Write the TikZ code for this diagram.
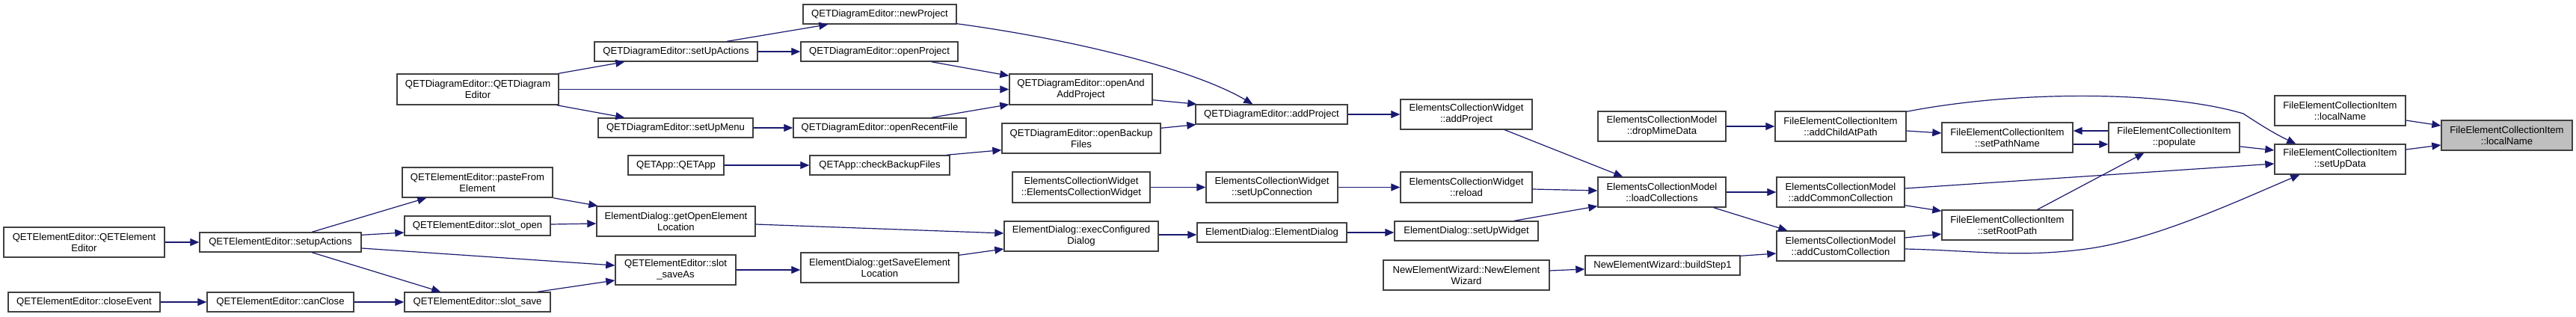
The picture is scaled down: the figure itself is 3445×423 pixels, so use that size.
\documentclass[tikz,border=0pt]{standalone}
\usepackage{fontspec}
\setmainfont{Liberation Sans}
\usetikzlibrary{arrows.meta}
\definecolor{edgeblue}{HTML}{191970}
\definecolor{nodeborder}{HTML}{404040}
\definecolor{targetfill}{HTML}{BFBFBF}
\tikzset{
  box/.style={draw=nodeborder, line width=1.4pt, fill=white, inner sep=0pt, align=center,
    text=black, font=\fontsize{13.1}{15}\selectfont},
  call/.style={draw=edgeblue, line width=1.2pt, -{Triangle[length=12pt,width=10pt]}},
}
\newcommand\nd[7][]{\node[box,#1,minimum width=#5pt,minimum height=#6pt] (#2) at (#3,#4) {#7};}
\begin{document}
\begin{tikzpicture}[x=1pt,y=-1pt]
\useasboundingbox (0,0) rectangle (3445,423);
% nodes
\nd{qde}{639}{119.5}{216}{41}{QETDiagramEditor::QETDiagram\\Editor}
\nd{qee}{112.5}{324}{215}{40}{QETElementEditor::QETElement\\Editor}
\nd{qeeSA}{375}{324}{216}{26}{QETElementEditor::setupActions}
\nd{qeeClose}{112.5}{404}{203}{26}{QETElementEditor::closeEvent}
\nd{qeeCan}{375}{404}{196}{26}{QETElementEditor::canClose}
\nd{qeePaste}{638.5}{244}{201}{40}{QETElementEditor::pasteFrom\\Element}
\nd{qeeOpen}{638.5}{302}{195}{26}{QETElementEditor::slot\_open}
\nd{qeeSave}{638.5}{404}{195}{26}{QETElementEditor::slot\_save}
\nd{qdeSA}{904}{69}{218}{26}{QETDiagramEditor::setUpActions}
\nd{qdeMenu}{903.5}{171}{207}{26}{QETDiagramEditor::setUpMenu}
\nd{qdeNew}{1176.5}{19}{205}{26}{QETDiagramEditor::newProject}
\nd{qdeOpen}{1176}{69}{210}{26}{QETDiagramEditor::openProject}
\nd{qdeRecent}{1176.5}{171}{231}{26}{QETDiagramEditor::openRecentFile}
\nd{app}{904}{221}{128}{26}{QETApp::QETApp}
\nd{appCheck}{1176.5}{221}{187}{26}{QETApp::checkBackupFiles}
\nd{edOpenLoc}{904}{296}{212}{40}{ElementDialog::getOpenElement\\Location}
\nd{qeeSaveAs}{903.5}{361}{161}{40}{QETElementEditor::slot\\\_saveAs}
\nd{edSaveLoc}{1176.5}{358}{211}{40}{ElementDialog::getSaveElement\\Location}
\nd{qdeOAA}{1445.5}{119.5}{191}{41}{QETDiagramEditor::openAnd\\AddProject}
\nd{qdeBackup}{1446}{185}{212}{40}{QETDiagramEditor::openBackup\\Files}
\nd{qdeAdd}{1700.5}{153}{203}{26}{QETDiagramEditor::addProject}
\nd{ecwCtor}{1446}{250.5}{184}{41}{ElementsCollectionWidget\\::ElementsCollectionWidget}
\nd{ecwConn}{1701}{250.5}{176}{41}{ElementsCollectionWidget\\::setUpConnection}
\nd{edExec}{1446}{316}{206}{40}{ElementDialog::execConfigured\\Dialog}
\nd{edCtor}{1701}{311}{200}{26}{ElementDialog::ElementDialog}
\nd{ecwAdd}{1961}{153}{176}{40}{ElementsCollectionWidget\\::addProject}
\nd{ecwReload}{1961}{250.5}{176}{41}{ElementsCollectionWidget\\::reload}
\nd{edWidget}{1961}{309}{192}{26}{ElementDialog::setUpWidget}
\nd{newCtor}{1961}{368}{222}{40}{NewElementWizard::NewElement\\Wizard}
\nd{newStep}{2223.5}{355}{207}{26}{NewElementWizard::buildStep1}
\nd{ecmDrop}{2222.5}{169}{171}{40}{ElementsCollectionModel\\::dropMimeData}
\nd{ecmLoad}{2222.5}{257}{171}{40}{ElementsCollectionModel\\::loadCollections}
\nd{feAddChild}{2461.5}{169}{175}{40}{FileElementCollectionItem\\::addChildAtPath}
\nd{ecmCommon}{2461.5}{257}{171}{40}{ElementsCollectionModel\\::addCommonCollection}
\nd{ecmCustom}{2461.5}{329}{171}{40}{ElementsCollectionModel\\::addCustomCollection}
\nd{fePath}{2684.5}{184}{175}{40}{FileElementCollectionItem\\::setPathName}
\nd{feRoot}{2684.5}{301}{175}{40}{FileElementCollectionItem\\::setRootPath}
\nd{fePop}{2907.5}{184}{175}{40}{FileElementCollectionItem\\::populate}
\nd{feLocal2}{3129.5}{148}{175}{40}{FileElementCollectionItem\\::localName}
\nd{feSetUp}{3129.5}{213}{175}{40}{FileElementCollectionItem\\::setUpData}
\nd[fill=targetfill]{target}{3352.5}{181}{175}{40}{FileElementCollectionItem\\::localName}
% connectors
\draw[call] (qee.east) -- (qeeSA.west);
\draw[call] (qeeClose.east) -- (qeeCan.west);
\draw[call] (qeeCan.east) -- (qeeSave.west);
\draw[call] ([shift={(151,0)}]qeeSA.north west) -- ([shift={(33,0)}]qeePaste.south west);
\draw[call] ([shift={(0,4)}]qeeSA.north east) -- ([shift={(0,9)}]qeeOpen.west);
\draw[call] ([shift={(0,8)}]qeeSA.east) -- ([shift={(0,-6)}]qeeSaveAs.west);
\draw[call] ([shift={(151,0)}]qeeSA.south west) -- ([shift={(49,0)}]qeeSave.north west);
\draw[call] (qeePaste.south east) -- ([shift={(2,0)}]edOpenLoc.north west);
\draw[call] ([shift={(0,-2)}]qeeOpen.east) -- ([shift={(0,3)}]edOpenLoc.west);
\draw[call] ([shift={(-18,0)}]qeeSave.north east) -- ([shift={(0,14)}]qeeSaveAs.west);
\draw[call] (qeeSaveAs.east) -- ([shift={(0,3)}]edSaveLoc.west);
\draw[call] ([shift={(0,4)}]edOpenLoc.east) -- ([shift={(0,-4)}]edExec.west);
\draw[call] ([shift={(0,4)}]edSaveLoc.north east) -- ([shift={(0,17)}]edExec.west);
\draw[call] ([shift={(0,-2)}]edExec.east) -- ([shift={(0,3)}]edCtor.west);
\draw[call] (edCtor.east) -- ([shift={(0,2)}]edWidget.west);
\draw[call] ([shift={(161,0)}]edWidget.north west) -- ([shift={(0,-2)}]ecmLoad.south west);
\draw[call] ([shift={(0,2.5)}]ecwReload.east) -- ([shift={(0,-2)}]ecmLoad.west);
\draw[call] ([shift={(140,0)}]ecwAdd.south west) -- ([shift={(34,0)}]ecmLoad.north west);
\draw[call] (ecwCtor.east) -- (ecwConn.west);
\draw[call] (ecwConn.east) -- (ecwReload.west);
\draw[call] ([shift={(-1,0)}]qde.north east) -- ([shift={(41,0)}]qdeSA.south west);
\draw[call] ([shift={(-3,0)}]qde.south east) -- ([shift={(36,0)}]qdeMenu.north west);
\draw[call] (qde.east) -- (qdeOAA.west);
\draw[call] ([shift={(178,0)}]qdeSA.north west) -- ([shift={(34,0)}]qdeNew.south west);
\draw[call] (qdeSA.east) -- (qdeOpen.west);
\draw[call] (qdeMenu.east) -- (qdeRecent.west);
\draw[call] ([shift={(-36,0)}]qdeOpen.south east) -- ([shift={(0,3)}]qdeOAA.north west);
\draw[call] ([shift={(-47,0)}]qdeRecent.north east) -- ([shift={(0,-1)}]qdeOAA.south west);
\draw[call] ([shift={(0,-1)}]qdeNew.south east) .. controls (1450,55) and (1600,95) .. ([shift={(77,0)}]qdeAdd.north west);
\draw[call] ([shift={(0,-7)}]qdeOAA.south east) -- ([shift={(2,0)}]qdeAdd.north west);
\draw[call] ([shift={(0,7)}]qdeBackup.north east) -- ([shift={(1,0)}]qdeAdd.south west);
\draw[call] (app.east) -- (appCheck.west);
\draw[call] ([shift={(-5,0)}]appCheck.north east) -- ([shift={(0,-5)}]qdeBackup.south west);
\draw[call] (qdeAdd.east) -- (ecwAdd.west);
\draw[call] ([shift={(0,-6)}]newCtor.east) -- ([shift={(0,5)}]newStep.west);
\draw[call] (ecmDrop.east) -- (feAddChild.west);
\draw[call] ([shift={(0,6)}]feAddChild.east) -- ([shift={(0,-6)}]fePath.west);
\draw[call] ([shift={(0,-9)}]fePop.west) -- ([shift={(0,-9)}]fePath.east);
\draw[call] ([shift={(0,9)}]fePath.east) -- ([shift={(0,9)}]fePop.west);
\draw[call] (ecmLoad.east) -- (ecmCommon.west);
\draw[call] ([shift={(-17,0)}]ecmLoad.south east) -- ([shift={(15,0)}]ecmCustom.north west);
\draw[call] ([shift={(0,1)}]newStep.north east) -- ([shift={(0,10)}]ecmCustom.west);
\draw[call] ([shift={(0,-3)}]ecmCommon.south east) -- ([shift={(0,2)}]feRoot.north west);
\draw[call] ([shift={(0,-11)}]ecmCustom.east) -- ([shift={(0,12)}]feRoot.west);
\draw[call] ([shift={(-48,0)}]feRoot.north east) -- ([shift={(48,0)}]fePop.south west);
\draw[call] ([shift={(0,1)}]feAddChild.north east) .. controls (2700,120) and (2900,122) .. (3000,152) .. controls (3020,165) and (3040,178) .. ([shift={(29,0)}]feSetUp.north west);
\draw[call] ([shift={(0,12)}]fePop.east) -- ([shift={(0,-12)}]feSetUp.west);
\draw[call] ([shift={(0,-5)}]ecmCommon.east) -- ([shift={(0,6)}]feSetUp.west);
\draw[call] ([shift={(0,4)}]ecmCustom.east) .. controls (2640,335) and (2700,345) .. (2790,333) .. controls (2880,321) and (2990,270) .. ([shift={(34,0)}]feSetUp.south west);
\draw[call] ([shift={(0,13)}]feLocal2.east) -- ([shift={(0,-13)}]target.west);
\draw[call] ([shift={(0,-13)}]feSetUp.east) -- ([shift={(0,13)}]target.west);
\end{tikzpicture}
\end{document}
